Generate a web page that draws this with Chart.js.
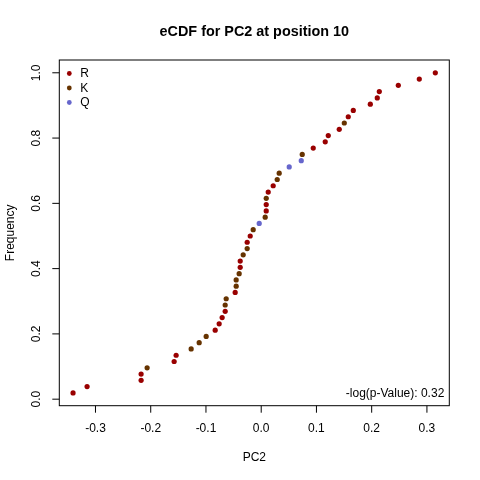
<!DOCTYPE html>
<html>
<head>
<meta charset="utf-8">
<script src="https://cdn.jsdelivr.net/npm/chart.js@4"></script>
<style>
html,body{margin:0;padding:0;background:#fff;}
#wrap{width:480px;height:480px;}
</style>
</head>
<body>
<div id="wrap"><canvas id="c" width="480" height="480"></canvas></div>
<script>
// Sorted PC2 values (eCDF order) and the residue of each observation
const pc2Values = [
  -0.3406, -0.3152, -0.2174, -0.2174, -0.2065, -0.1576, -0.1540, -0.1268, -0.1123, -0.0996,
  -0.0833, -0.0761, -0.0707, -0.0652, -0.0652, -0.0634, -0.0471, -0.0453, -0.0453, -0.0399,
  -0.0380, -0.0380, -0.0326, -0.0254, -0.0254, -0.0199, -0.0145, -0.0036, 0.0072, 0.0091,
  0.0091, 0.0091, 0.0127, 0.0217, 0.0290, 0.0326, 0.0507, 0.0725, 0.0743, 0.0942,
  0.1159, 0.1214, 0.1413, 0.1504, 0.1576, 0.1667, 0.1975, 0.2101, 0.2138, 0.2482,
  0.2862, 0.3152
];
const residues = [
  'R','R','R','R','K','R','R','K','K','K',
  'R','R','R','R','K','K','R','K','K','K',
  'R','R','K','K','R','R','K','Q','K','R',
  'R','K','R','R','K','K','Q','Q','K','R',
  'R','R','R','K','R','R','R','R','R','R',
  'R','R'
];
const groups = ['R','K','Q'];
const groupColors = ['#990000','#663300','#6666CC'];
const xTicks = [-0.3,-0.2,-0.1,0.0,0.1,0.2,0.3];
const yTicks = [0.0,0.2,0.4,0.6,0.8,1.0];
const titleText = 'eCDF for PC2 at position 10';
const xLabel = 'PC2';
const yLabel = 'Frequency';
const noteText = '-log(p-Value): 0.32';

const n = pc2Values.length;
const datasets = groups.map((g, gi) => ({
  label: g,
  data: pc2Values.map((v, i) => ({x: v, y: (i + 1) / n, r: residues[i]})).filter(p => p.r === g),
  backgroundColor: groupColors[gi],
  borderWidth: 0,
  pointRadius: 2.6,
  pointHoverRadius: 2.6
}));

const FONT = '"Liberation Sans", Arial, sans-serif';

const decor = {
  id: 'decor',
  afterDraw(chart) {
    const ctx = chart.ctx;
    const a = chart.chartArea;
    const xs = chart.scales.x, ys = chart.scales.y;
    ctx.save();
    ctx.strokeStyle = '#000';
    ctx.lineWidth = 1;
    // box
    ctx.strokeRect(a.left, a.top, a.right - a.left, a.bottom - a.top);
    // x ticks
    ctx.fillStyle = '#000';
    ctx.font = '12px ' + FONT;
    ctx.textAlign = 'center';
    ctx.textBaseline = 'middle';
    xTicks.forEach(t => {
      const px = xs.getPixelForValue(t);
      ctx.beginPath();
      ctx.moveTo(px, a.bottom);
      ctx.lineTo(px, a.bottom + 7);
      ctx.stroke();
      ctx.fillText(t.toFixed(1), px, a.bottom + 22.5);
    });
    // y ticks
    yTicks.forEach(t => {
      const py = ys.getPixelForValue(t);
      ctx.beginPath();
      ctx.moveTo(a.left, py);
      ctx.lineTo(a.left - 7, py);
      ctx.stroke();
      ctx.save();
      ctx.translate(a.left - 22.5, py);
      ctx.rotate(-Math.PI / 2);
      ctx.fillText(t.toFixed(1), 0, 0);
      ctx.restore();
    });
    // axis titles
    const cx = (a.left + a.right) / 2, cy = (a.top + a.bottom) / 2;
    ctx.fillText(xLabel, cx, a.bottom + 52);
    ctx.save();
    ctx.translate(a.left - 49, cy);
    ctx.rotate(-Math.PI / 2);
    ctx.fillText(yLabel, 0, 0);
    ctx.restore();
    // title
    ctx.font = 'bold 14.4px ' + FONT;
    ctx.fillText(titleText, cx, 32);
    // note
    ctx.font = '12px ' + FONT;
    ctx.textAlign = 'right';
    ctx.fillText(noteText, a.right - 5, a.bottom - 12);
    // legend
    ctx.textAlign = 'left';
    groups.forEach((g, gi) => {
      const ly = a.top + 13.5 + gi * 14.5;
      ctx.fillStyle = groupColors[gi];
      ctx.beginPath();
      ctx.arc(a.left + 10, ly, 2.4, 0, Math.PI * 2);
      ctx.fill();
      ctx.fillStyle = '#000';
      ctx.fillText(g, a.left + 21, ly + 0.5);
    });
    ctx.restore();
  }
};

new Chart(document.getElementById('c'), {
  type: 'scatter',
  data: {datasets},
  options: {
    responsive: false,
    animation: false,
    devicePixelRatio: 1,
    layout: {padding: {left: 59.3, right: 30.7, top: 60, bottom: 74.3}},
    plugins: {legend: {display: false}, tooltip: {enabled: false}, title: {display: false}},
    scales: {
      x: {type: 'linear', display: false, min: -0.3655, max: 0.3405},
      y: {type: 'linear', display: false, min: -0.0200, max: 1.0392}
    }
  },
  plugins: [decor]
});
</script>
</body>
</html>
